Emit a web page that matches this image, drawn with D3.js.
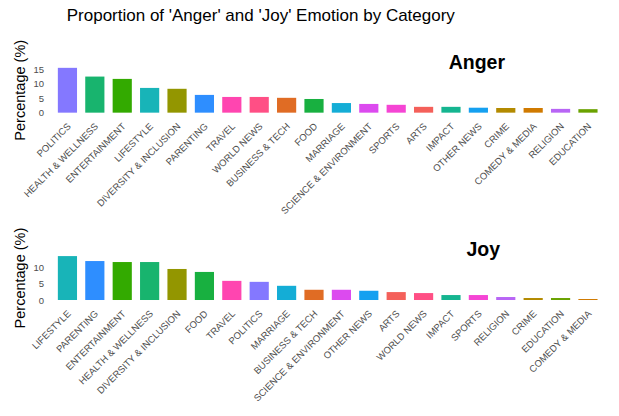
<!DOCTYPE html>
<html>
<head>
<meta charset="utf-8">
<script src="https://cdn.jsdelivr.net/npm/d3@7"></script>
<style>
  html, body { margin: 0; padding: 0; background: #ffffff; }
  svg { display: block; font-family: "Liberation Sans", Arial, Helvetica, sans-serif; }
</style>
</head>
<body>
<svg id="chart" width="619" height="416"></svg>
<script>
// ---- Data ----
const angerCategories = ["POLITICS", "HEALTH & WELLNESS", "ENTERTAINMENT", "LIFESTYLE", "DIVERSITY & INCLUSION",
  "PARENTING", "TRAVEL", "WORLD NEWS", "BUSINESS & TECH", "FOOD", "MARRIAGE", "SCIENCE & ENVIRONMENT",
  "SPORTS", "ARTS", "IMPACT", "OTHER NEWS", "CRIME", "COMEDY & MEDIA", "RELIGION", "EDUCATION"];
const angerValues = [15.4, 12.4, 11.6, 8.5, 8.2, 6.1, 5.4, 5.4, 5.1, 4.7, 3.3, 3.0, 2.7, 2.0, 2.0, 1.7, 1.6, 1.6, 1.3, 1.2];

const joyCategories = ["LIFESTYLE", "PARENTING", "ENTERTAINMENT", "HEALTH & WELLNESS", "DIVERSITY & INCLUSION",
  "FOOD", "TRAVEL", "POLITICS", "MARRIAGE", "BUSINESS & TECH", "SCIENCE & ENVIRONMENT", "OTHER NEWS",
  "ARTS", "WORLD NEWS", "IMPACT", "SPORTS", "RELIGION", "CRIME", "EDUCATION", "COMEDY & MEDIA"];
const joyValues = [13.3, 11.8, 11.5, 11.5, 9.4, 8.5, 5.8, 5.5, 4.3, 3.1, 3.1, 2.8, 2.4, 2.1, 1.5, 1.5, 0.9, 0.6, 0.6, 0.3];

const angerTicks = [0, 5, 10, 15];
const joyTicks = [0, 5, 10];

const colorCategories = ["ARTS", "BUSINESS & TECH", "COMEDY & MEDIA", "CRIME", "DIVERSITY & INCLUSION", "EDUCATION",
  "ENTERTAINMENT", "FOOD", "HEALTH & WELLNESS", "IMPACT", "LIFESTYLE", "MARRIAGE", "OTHER NEWS", "PARENTING",
  "POLITICS", "RELIGION", "SCIENCE & ENVIRONMENT", "SPORTS", "TRAVEL", "WORLD NEWS"];
const colorValues = ["#F4605A", "#E06C24", "#D07A00", "#B38A00", "#939600", "#6AA200",
  "#33AA00", "#18B040", "#18B46E", "#15B590", "#18B4B8", "#14ADD6", "#15A0F0", "#2E8EFF",
  "#8478FF", "#B865F5", "#DC4AEF", "#F545D4", "#FF45B0", "#FF4F85"];

const mainTitle = "Proportion of 'Anger' and 'Joy' Emotion by Category";
const yTitle = "Percentage (%)";

// ---- Layout ----
const svg = d3.select("#chart");
const color = d3.scaleOrdinal().domain(colorCategories).range(colorValues);

const plotLeft = 51, plotRight = 604.4;

const panels = [
  { title: "Anger", cats: angerCategories, vals: angerValues, ticks: angerTicks, top: 65.6, bottom: 114.9 },
  { title: "Joy", cats: joyCategories, vals: joyValues, ticks: joyTicks, top: 253.9, bottom: 302.2 }
];

svg.append("text")
  .attr("x", 260.8).attr("y", 21)
  .attr("text-anchor", "middle")
  .attr("font-size", 17)
  .attr("fill", "#000")
  .text(mainTitle);

panels.forEach(p => {
  const maxV = d3.max(p.vals);
  const y = d3.scaleLinear().domain([-0.05 * maxV, 1.05 * maxV]).range([p.bottom, p.top]);
  const x = d3.scaleBand().domain(p.cats).range([plotLeft, plotRight]).paddingInner(0.3).paddingOuter(0.25);

  const g = svg.append("g");

  g.selectAll("rect")
    .data(p.cats.map((c, i) => ({ c, v: p.vals[i] })))
    .join("rect")
    .attr("x", d => x(d.c))
    .attr("width", x.bandwidth())
    .attr("y", d => y(d.v))
    .attr("height", d => y(0) - y(d.v))
    .attr("fill", d => color(d.c));

  // y axis
  const ya = g.append("g")
    .attr("transform", `translate(${plotLeft},0)`)
    .call(d3.axisLeft(y).tickValues(p.ticks).tickSize(0).tickPadding(7));
  ya.select(".domain").remove();
  ya.selectAll("text").attr("font-size", 9.5).attr("fill", "#4D4D4D")
    .attr("font-family", "'Liberation Sans', Arial, sans-serif");

  // x axis
  const xa = g.append("g")
    .attr("transform", `translate(0,${p.bottom})`)
    .call(d3.axisBottom(x).tickSize(0));
  xa.select(".domain").remove();
  xa.selectAll("text")
    .attr("y", null).attr("dy", null)
    .attr("text-anchor", "end")
    .attr("transform", "translate(4,12.1) rotate(-45)")
    .attr("font-size", 9.5).attr("fill", "#4D4D4D")
    .attr("font-family", "'Liberation Sans', Arial, sans-serif");

  // y axis title
  svg.append("text")
    .attr("transform", `translate(24.5,${(p.top + p.bottom) / 2}) rotate(-90)`)
    .attr("text-anchor", "middle")
    .attr("font-size", 14.5)
    .attr("fill", "#000")
    .text(yTitle);

  // panel title (hjust ~0.78 around anchor)
  const t = svg.append("text")
    .attr("y", y(0) - 43.7)
    .attr("font-size", 19.5)
    .attr("font-weight", "bold")
    .attr("fill", "#000")
    .text(p.title);
  const w = t.node().getComputedTextLength();
  t.attr("x", 492.6 - 0.78 * w);
});
</script>
</body>
</html>
